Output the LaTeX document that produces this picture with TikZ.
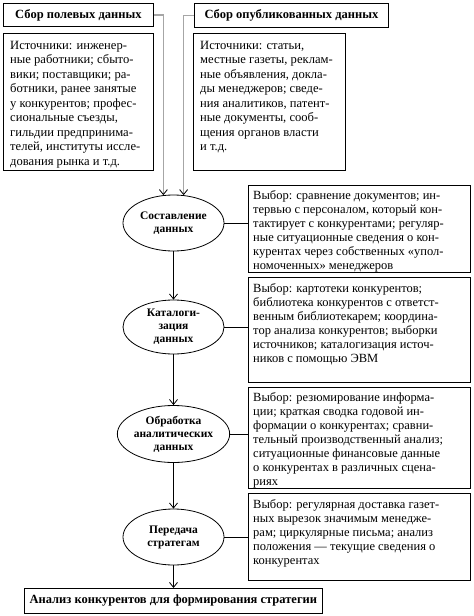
\documentclass[tikz,border=0pt]{standalone}
\usepackage{fontspec}
\setmainfont{Liberation Serif}
\usetikzlibrary{arrows.meta,shapes.geometric,calc}
\begin{document}
\begin{tikzpicture}[x=1pt,y=-1pt,
  box/.style={draw,line width=0.8pt,rectangle,inner sep=0pt,anchor=north west},
  title/.style={box,font=\bfseries\fontsize{12.5}{14}\selectfont},
  txt/.style={anchor=north west,inner sep=0pt,align=left,font=\fontsize{12.5}{14}\selectfont},
  srctxt/.style={txt,font=\fontsize{12.6}{14.5}\selectfont},
  stage/.style={draw,line width=0.8pt,ellipse,inner sep=0pt,align=center,font=\bfseries\fontsize{11.5}{13}\selectfont},
  link/.style={line width=0.8pt},
  flow/.style={line width=0.8pt,-{Straight Barb[length=5pt,width=8pt]}},
  feed/.style={line width=1.4pt,draw=gray!70,-{Straight Barb[length=5pt,width=8pt,color=black,line width=0.8pt]}}
]
\useasboundingbox (0,0) rectangle (474,616);

% top title boxes
\node[title,minimum width=150pt,minimum height=23pt] (b1) at (3,3) {Сбор полевых данных};
\node[title,minimum width=194pt,minimum height=24pt] (b3) at (194,3) {Сбор опубликованных данных};

% source boxes
\node[box,minimum width=150pt,minimum height=137pt] (s1) at (3,33) {};
\node[srctxt] (s1t) at ($(s1.north west)+(7,8)$) {Источники: инженер-\\ные работники; сбыто-\\вики; поставщики; ра-\\ботники, ранее занятые\\у конкурентов; профес-\\сиональные съезды,\\гильдии предпринима-\\телей, институты иссле-\\дования рынка и т.д.};
\node[box,minimum width=152pt,minimum height=137pt] (s2) at (193,33) {};
\node[srctxt] (s2t) at ($(s2.north west)+(7,8)$) {Источники: статьи,\\местные газеты, реклам-\\ные объявления, докла-\\ды менеджеров; сведе-\\ния аналитиков, патент-\\ные документы, сооб-\\щения органов власти\\и т.д.};

% stages
\node[stage,minimum width=101pt,minimum height=56pt] (e1) at (173.5,223) {Составление\\данных};
\node[stage,minimum width=101pt,minimum height=54pt] (e2) at (173.5,327) {Каталоги-\\зация\\данных};
\node[stage,minimum width=102pt,minimum height=57pt] (e3) at (173.5,434) {Обработка\\аналитических\\данных};
\node[stage,minimum width=101pt,minimum height=56pt] (e4) at (173.5,537) {Передача\\стратегам};

% choice boxes
\node[box,minimum width=222pt,minimum height=87pt] (r1) at (248,185) {};
\node[txt] (r1t) at ($(r1.north west)+(5,5)$) {Выбор: сравнение документов; ин-\\тервью с персоналом, который кон-\\тактирует с конкурентами; регуляр-\\ные ситуационные сведения о кон-\\курентах через собственных «упол-\\номоченных» менеджеров};
\node[box,minimum width=222pt,minimum height=105pt] (r2) at (248,277) {};
\node[txt] (r2t) at ($(r2.north west)+(5,6)$) {Выбор: картотеки конкурентов;\\библиотека конкурентов с ответст-\\венным библиотекарем; координа-\\тор анализа конкурентов; выборки\\источников; каталогизация источ-\\ников с помощью ЭВМ};
\node[box,minimum width=222pt,minimum height=101pt] (r3) at (248,387) {};
\node[txt] (r3t) at ($(r3.north west)+(5,5)$) {Выбор: резюмирование информа-\\ции; краткая сводка годовой ин-\\формации о конкурентах; сравни-\\тельный производственный анализ;\\ситуационные финансовые данные\\о конкурентах в различных сцена-\\риях};
\node[box,minimum width=222pt,minimum height=87pt] (r4) at (248,493) {};
\node[txt] (r4t) at ($(r4.north west)+(5,6)$) {Выбор: регулярная доставка газет-\\ных вырезок значимым менедже-\\рам; циркулярные письма; анализ\\положения — текущие сведения о\\конкурентах};

% final box
\node[title,minimum width=298pt,minimum height=25pt] (fin) at (24,588) {Анализ конкурентов для формирования стратегии};

% connectors
\draw[feed] (b1.east) -| (e1.110);
\draw[feed] (b3.west) -| (e1.70);
\draw[flow] (e1) -- (e2);
\draw[flow] (e2) -- (e3);
\draw[flow] (e3) -- (e4);
\draw[flow] (e4) -- (e4 |- fin.north);
\draw[link] (e1.east) -- (e1.east -| r1.west);
\draw[link] (e2.east) -- (e2.east -| r2.west);
\draw[link] (e3.east) -- (e3.east -| r3.west);
\draw[link] (e4.east) -- (e4.east -| r4.west);
\end{tikzpicture}
\end{document}
